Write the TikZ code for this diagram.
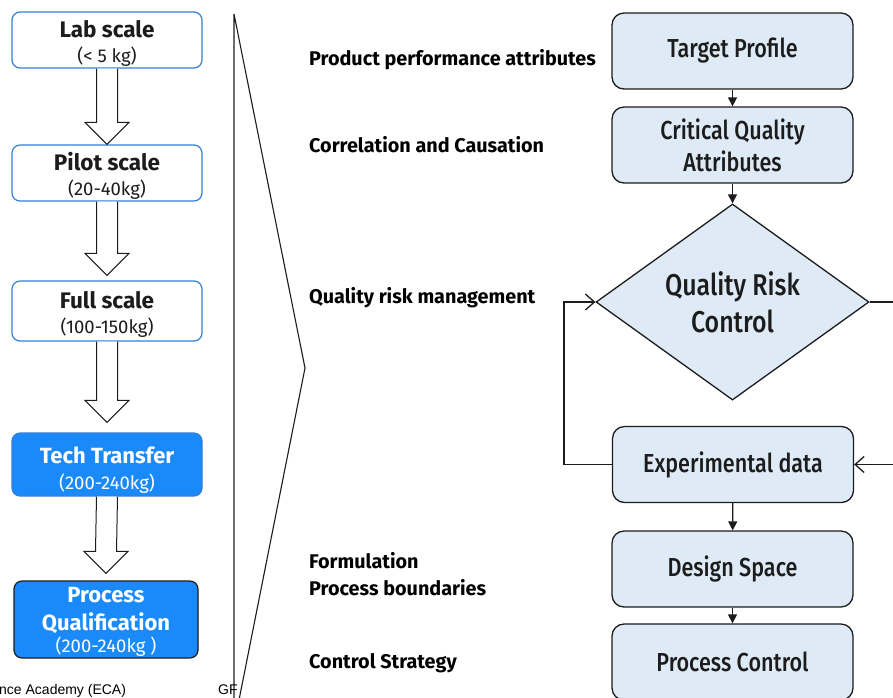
\documentclass[tikz,border=0pt]{standalone}
\usepackage{fontspec}
\setmainfont{Fira Sans}
\IfFontExistsTF{Fira Sans Medium}
  {\newfontfamily\condfont{Fira Sans Medium}[FakeStretch=0.83]}
  {\newfontfamily\condfont{Fira Sans}[FakeStretch=0.85]}
\newfontfamily\footfont{Liberation Sans}
\usetikzlibrary{shapes.geometric,arrows.meta,calc}

\definecolor{scaleblue}{RGB}{52,128,214}
\definecolor{stepblue}{RGB}{26,138,250}
\definecolor{boxfill}{RGB}{222,234,246}
\definecolor{inkdark}{RGB}{28,28,28}

\newcommand\headfont{\fontsize{22.5}{25}\selectfont\bfseries}
\newcommand\lift[1]{\rule{0pt}{#1pt}}

% hollow block arrow between two stacked boxes: #3 = gap left above the lower box
\newcommand\blockarrow[3]{%
  \draw[blockline]
    ($(#1.south)+(-10.5,0)$) -- ($(#2.north)+(-10.5,-22-#3)$)
    -- ($(#2.north)+(-22,-22-#3)$) -- ($(#2.north)+(0,-#3)$)
    -- ($(#2.north)+(22,-22-#3)$) -- ($(#2.north)+(10.5,-22-#3)$)
    -- ($(#1.south)+(10.5,0)$);}

\begin{document}
\begin{tikzpicture}[x=1pt,y=-1pt,
  scalebox/.style={draw=scaleblue, line width=1.2pt, rounded corners=8pt,
    fill=white, minimum width=190pt, inner sep=0pt, align=center,
    font=\fontsize{18.5}{25}\selectfont, text=inkdark},
  stepbox/.style={scalebox, fill=stepblue, text=white},
  blockline/.style={draw=inkdark, line width=1pt, fill=white},
  midlabel/.style={anchor=west, font=\fontsize{19.8}{27}\selectfont\bfseries,
    align=left, inner sep=0pt, text=black},
  flowbox/.style={draw=inkdark, line width=1.3pt, fill=boxfill, rounded corners=12pt,
    minimum width=241pt, minimum height=76pt, inner sep=0pt, align=center,
    font=\condfont\fontsize{26}{32}\selectfont, text=inkdark},
  decision/.style={diamond, draw=inkdark, line width=1.3pt, fill=boxfill,
    minimum width=273pt, minimum height=186pt, inner sep=0pt, align=center,
    font=\condfont\fontsize{30}{37}\selectfont, text=inkdark},
  flowarrow/.style={draw=inkdark, line width=1.3pt, -{Triangle[length=9pt,width=9pt]}},
  looparrow/.style={draw=inkdark, line width=1.3pt, -{Straight Barb[length=9pt,width=16pt]}},
  bracket/.style={draw=inkdark, line width=1.1pt},
  footnote/.style={font=\footfont\fontsize{14}{16}\selectfont, text=black, inner sep=0pt}
]
\useasboundingbox (0,0) rectangle (893,697);
\clip (0,0) rectangle (893,697);
\fill[white] (0,0) rectangle (893,697);

% scale-up sequence
\node[scalebox, minimum height=56pt] (lab) at (107,40)
  {{\headfont\lift{23}Lab scale}\\(< 5 kg)};
\node[scalebox, minimum height=56pt] (pilot) at (107,173)
  {{\headfont\lift{23}Pilot scale}\\(20-40kg)};
\node[scalebox, minimum height=60pt] (full) at (107,311)
  {{\headfont\lift{24}Full scale}\\(100-150kg)};
\node[stepbox, minimum height=63pt, font=\fontsize{18.5}{26}\selectfont] (tech) at (107,464.5)
  {{\headfont\fontsize{22}{26}\selectfont\lift{27}Tech Transfer}\\(200-240kg)};
\node[stepbox, draw=inkdark, minimum width=184pt, minimum height=77pt,
  font=\fontsize{18.5}{22}\selectfont] (pq) at (106,619.5)
  {{\headfont\fontsize{22}{28}\selectfont\lift{20}Process}\\[6pt]
   {\headfont\fontsize{22}{28}\selectfont Qualification}\\(200-240kg )};

\blockarrow{lab}{pilot}{0}
\blockarrow{pilot}{full}{5}
\blockarrow{full}{tech}{10}
\blockarrow{tech}{pq}{7}

% bracket opening to the right
\coordinate (brtop) at (234,14);
\coordinate (brtip) at (305,368);
\coordinate (brfoot) at (239,700);
\coordinate (brbase) at (234,700);
\draw[bracket] (brbase) -- (brtop) -- (brtip) -- (brfoot);

% footer fragments
\node[footnote, anchor=base west] (acad) at (-1,694) {nce Academy (ECA)};
\node[footnote, anchor=base west] (gf) at (218,694) {GF};

% development stages
\node[midlabel] (l1) at (309,60) {Product performance attributes};
\node[midlabel] (l2) at (309,145) {Correlation and Causation};
\node[midlabel] (l3) at (309,298) {Quality risk management};
\node[midlabel] (l4) at (309,574) {Formulation\\Process boundaries};
\node[midlabel] (l5) at (309,663) {Control Strategy};

% QbD flow
\node[flowbox] (tp) at (732.5,51) {Target Profile};
\node[flowbox] (cqa) at (732.5,145) {Critical Quality\\Attributes};
\node[decision] (qrc) at (732.5,302) {Quality Risk\\Control};
\node[flowbox] (exp) at (733,464.5) {Experimental data};
\node[flowbox] (ds) at (732.5,569) {Design Space};
\node[flowbox] (pc) at (732.5,662) {Process Control};

\draw[flowarrow] (tp) -- (cqa);
\draw[flowarrow] (cqa) -- (qrc);
\draw[flowarrow] (exp) -- (ds);
\draw[flowarrow] (ds) -- (pc);
\draw[looparrow] (exp.west) -- ++(-48,0) |- (qrc.west);
\draw[looparrow] (qrc.east) -- ++(50,0) |- (exp.east);
\end{tikzpicture}
\end{document}
